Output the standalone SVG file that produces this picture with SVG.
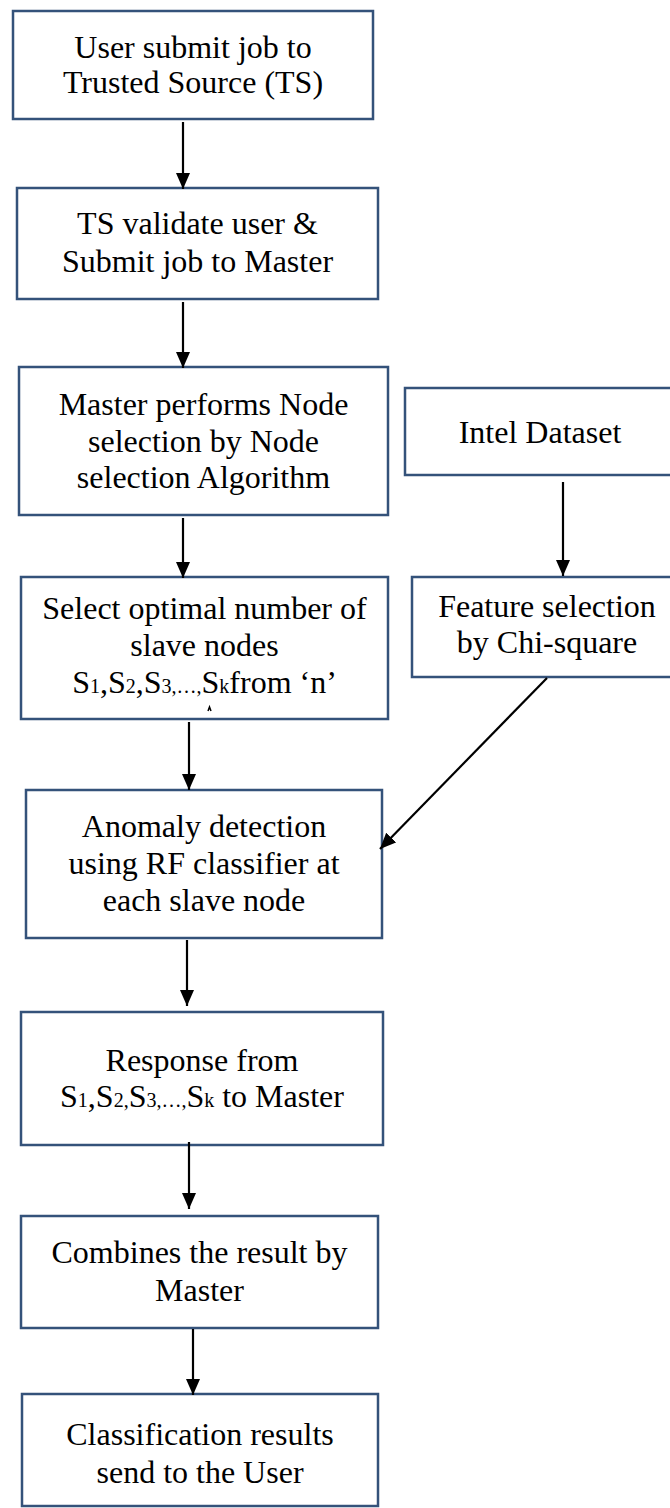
<svg xmlns="http://www.w3.org/2000/svg" width="670" height="1508" viewBox="0 0 670 1508">
<defs>
<style>
.box{fill:#ffffff;stroke:#34527a;stroke-width:2.5}
text{font-family:'Liberation Serif','DejaVu Serif',serif;font-size:32px;fill:#000;text-anchor:middle}
.sub{font-size:20px}
.c{stroke:#000;stroke-width:2.2;fill:none;marker-end:url(#ah)}
</style>
<marker id="ah" markerUnits="userSpaceOnUse" markerWidth="16" markerHeight="14" refX="16" refY="7" orient="auto">
<path d="M0,0 L16,7 L0,14 z" fill="#000"/>
</marker>
</defs>
<rect width="670" height="1508" fill="#ffffff"/>

<g font-family="Liberation Serif, serif">
<g id="n1">
<rect class="box" x="13" y="11" width="360" height="108"/>
<text font-family="Liberation Serif, serif" x="193" y="58">User submit job to</text>
<text font-family="Liberation Serif, serif" x="193" y="93">Trusted Source (TS)</text>
</g>

<g id="n2">
<rect class="box" x="17" y="188" width="361" height="111"/>
<text font-family="Liberation Serif, serif" x="197.5" y="234">TS validate user &amp;</text>
<text font-family="Liberation Serif, serif" x="197.5" y="272">Submit job to Master</text>
</g>

<g id="n3">
<rect class="box" x="19" y="367" width="369" height="148"/>
<text font-family="Liberation Serif, serif" x="203.5" y="415">Master performs Node</text>
<text font-family="Liberation Serif, serif" x="203.5" y="452">selection by Node</text>
<text font-family="Liberation Serif, serif" x="203.5" y="488">selection Algorithm</text>
</g>

<g id="n4">
<rect class="box" x="405" y="388" width="275" height="87"/>
<text font-family="Liberation Serif, serif" x="540" y="443">Intel Dataset</text>
</g>

<g id="n5">
<rect class="box" x="412" y="577" width="270" height="100"/>
<text font-family="Liberation Serif, serif" x="547" y="617">Feature selection</text>
<text font-family="Liberation Serif, serif" x="547" y="653">by Chi-square</text>
</g>

<g id="n6">
<rect class="box" x="21" y="577" width="367" height="142"/>
<text font-family="Liberation Serif, serif" x="204.5" y="619">Select optimal number of</text>
<text font-family="Liberation Serif, serif" x="204.5" y="656">slave nodes</text>
<text font-family="Liberation Serif, serif" x="204.5" y="693">S<tspan class="sub">1</tspan>,S<tspan class="sub">2</tspan>,S<tspan class="sub">3,…,</tspan>S<tspan class="sub">k</tspan>from  ‘n’</text>
<path d="M208,711 L209.5,707 L211,711" stroke="#000" stroke-width="1.5" fill="none"/>
</g>

<g id="n7">
<rect class="box" x="26" y="790" width="356" height="148"/>
<text font-family="Liberation Serif, serif" x="204" y="837">Anomaly detection</text>
<text font-family="Liberation Serif, serif" x="204" y="874">using RF classifier at</text>
<text font-family="Liberation Serif, serif" x="204" y="911">each slave node</text>
</g>

<g id="n8">
<rect class="box" x="21" y="1012" width="362" height="133"/>
<text font-family="Liberation Serif, serif" x="202" y="1071">Response from</text>
<text font-family="Liberation Serif, serif" x="202" y="1107">S<tspan class="sub">1</tspan>,S<tspan class="sub">2,</tspan>S<tspan class="sub">3,…,</tspan>S<tspan class="sub">k</tspan> to Master</text>
</g>

<g id="n9">
<rect class="box" x="21" y="1216" width="357" height="112"/>
<text font-family="Liberation Serif, serif" x="199.5" y="1263">Combines the result by</text>
<text font-family="Liberation Serif, serif" x="199.5" y="1301">Master</text>
</g>

<g id="n10">
<rect class="box" x="22" y="1394" width="356" height="112"/>
<text font-family="Liberation Serif, serif" x="200" y="1445">Classification results</text>
<text font-family="Liberation Serif, serif" x="200" y="1483">send to the User</text>
</g>
</g>

<g id="connectors">
<line class="c" x1="183" y1="122" x2="183" y2="189"/>
<line class="c" x1="183" y1="302" x2="183" y2="368"/>
<line class="c" x1="183" y1="518" x2="183" y2="578"/>
<line class="c" x1="563" y1="482" x2="563" y2="576"/>
<line class="c" x1="547" y1="678" x2="380" y2="849"/>
<line class="c" x1="189" y1="722" x2="189" y2="790"/>
<line class="c" x1="187" y1="940" x2="187" y2="1006"/>
<line class="c" x1="189" y1="1142" x2="189" y2="1209"/>
<line class="c" x1="193" y1="1329" x2="193" y2="1395"/>
</g>
</svg>
